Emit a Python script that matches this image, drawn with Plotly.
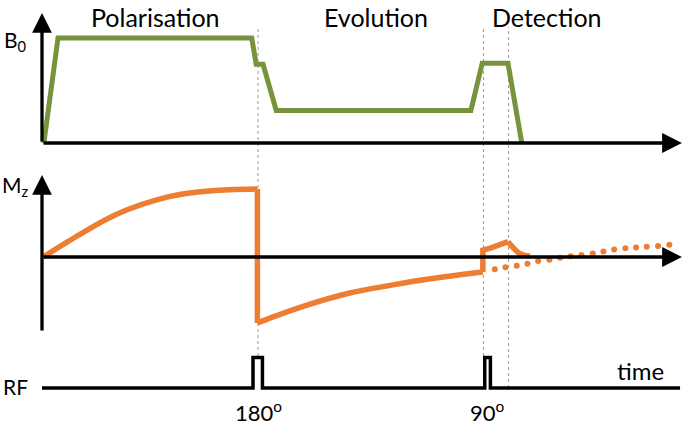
import plotly.graph_objects as go

# ---- data (time in arbitrary units, 0..~100) ----
b0_t = [0.3, 2.55, 33.4, 34.1, 35.2, 37.3, 68.3, 70.1, 74.2, 76.4]
b0_v = [0.0, 1.0, 1.0, 0.75, 0.75, 0.31, 0.31, 0.76, 0.76, 0.0]

# Mz: polarisation build-up, 180 inversion, recovery, 90 pulse, detection decay
mz_rise_t = [0.2, 4.0, 11.9, 19.9, 25.2, 29.9, 34.3]
mz_rise_v = [0.0, 0.22, 0.63, 0.88, 0.96, 0.99, 1.0]
mz_inv_t = [34.3, 34.3]
mz_inv_v = [1.0, -0.97]
mz_rec_t = [34.3, 35.7, 41.1, 49.0, 55.9, 61.8, 70.2]
mz_rec_v = [-0.97, -0.92, -0.74, -0.53, -0.41, -0.32, -0.22]
mz_det_t = [70.2, 70.2, 71.4, 74.2]
mz_det_v = [-0.22, 0.10, 0.13, 0.225]
mz_dec_t = [74.2, 75.0, 76.1, 77.7]
mz_dec_v = [0.225, 0.14, 0.05, 0.015]

dot_t = [72.1, 73.8, 75.6, 77.3, 79.0, 80.8, 82.5, 84.2, 85.9, 87.7, 89.4, 91.1, 92.9, 94.6, 96.3, 98.1, 99.9]
dot_v = [-0.18, -0.15, -0.13, -0.10, -0.06, -0.04, -0.01, 0.01, 0.03, 0.05, 0.08, 0.11, 0.13, 0.14, 0.15, 0.16, 0.18]

rf_t = [0.0, 33.6, 33.6, 35.1, 35.1, 70.5, 70.5, 71.4, 71.4, 101.6]
rf_v = [0, 0, 1, 1, 0, 0, 1, 1, 0, 0]

event_t = [34.4, 70.3, 74.3]          # vertical guide lines
phase_labels = ["Polarisation", "Evolution", "Detection"]
phase_t = [18.0, 53.2, 80.4]
pulse_labels = ["180<sup>o</sup>", "90<sup>o</sup>"]
pulse_t = [34.4, 70.9]

T_END = 101.9
GREEN = "#77933C"
ORANGE = "#ED7D31"
FONT = "Lato"

W, H = 685, 426
def py(px):  # pixel row -> paper y
    return 1 - px / H

fig = go.Figure()
fig.add_trace(go.Scatter(x=b0_t, y=b0_v, mode="lines", line=dict(color=GREEN, width=5), xaxis="x", yaxis="y"))
for xs, ys, shp in [(mz_rise_t, mz_rise_v, "spline"), (mz_inv_t, mz_inv_v, "linear"),
                    (mz_rec_t, mz_rec_v, "spline"), (mz_det_t, mz_det_v, "linear"),
                    (mz_dec_t, mz_dec_v, "spline")]:
    fig.add_trace(go.Scatter(x=xs, y=ys, mode="lines", line=dict(color=ORANGE, width=5.5, shape=shp),
                             xaxis="x", yaxis="y2"))
fig.add_trace(go.Scatter(x=dot_t, y=dot_v, mode="markers", marker=dict(color=ORANGE, size=6), xaxis="x", yaxis="y2"))
fig.add_trace(go.Scatter(x=rf_t, y=rf_v, mode="lines", line=dict(color="black", width=3.5), xaxis="x", yaxis="y3"))

shapes = []
bottoms = [356, 356, 388]
for t, b in zip(event_t, bottoms):
    shapes.append(dict(type="line", xref="x", yref="paper", x0=t, x1=t, y0=py(b), y1=py(27),
                       line=dict(color="#9A9A9A", width=1, dash="dot"), layer="below"))

ann = []
def arrow(x, y, ax, ay, yref):
    ann.append(dict(x=x, y=y, ax=ax, ay=ay, xref="x", yref=yref, axref="x", ayref=yref,
                    showarrow=True, arrowhead=2, arrowsize=1.2, arrowwidth=3.3, arrowcolor="black", text=""))

# axes with arrows
arrow(0, 1.238, 0, 0, "y")
arrow(T_END, 0, 0, 0, "y")
arrow(0, 1.206, 0, -1.103, "y2")
arrow(T_END, 0, 0, 0, "y2")

def label(text, x, y, size, xref="x"):
    ann.append(dict(x=x, y=y, xref=xref, yref="paper", text=text, showarrow=False,
                    xanchor="center", yanchor="middle",
                    font=dict(size=size, family=FONT, color="black")))

for lab, t in zip(phase_labels, phase_t):
    label(lab, t, py(17), 25)
for lab, t in zip(pulse_labels, pulse_t):
    label(lab, t, py(411), 22)

side = [("B<sub>0</sub>", 16, 41), ("M<sub>z</sub>", 16, 186), ("RF", 16, 386)]
for lab, xp, yp in side:
    label(lab, xp / W, py(yp), 21, xref="paper")
label("time", 640 / W, py(370), 24, xref="paper")

px_per = 6.28
fig.update_layout(
    width=W, height=H, margin=dict(l=0, r=0, t=0, b=0),
    paper_bgcolor="white", plot_bgcolor="white", showlegend=False,
    xaxis=dict(range=[-42 / px_per, (W - 42) / px_per], visible=False, fixedrange=True),
    yaxis=dict(domain=[py(160), 1], range=[-17 / 105, 143 / 105], visible=False),
    yaxis2=dict(domain=[py(345), py(160)], range=[-88 / 68, 97 / 68], visible=False),
    yaxis3=dict(domain=[0, py(345)], range=[-38 / 30.5, 43 / 30.5], visible=False),
    shapes=shapes, annotations=ann,
)
fig.write_html("out.html", config={"displayModeBar": False},
               post_script="document.body.style.margin='0';document.body.style.overflow='hidden';")
